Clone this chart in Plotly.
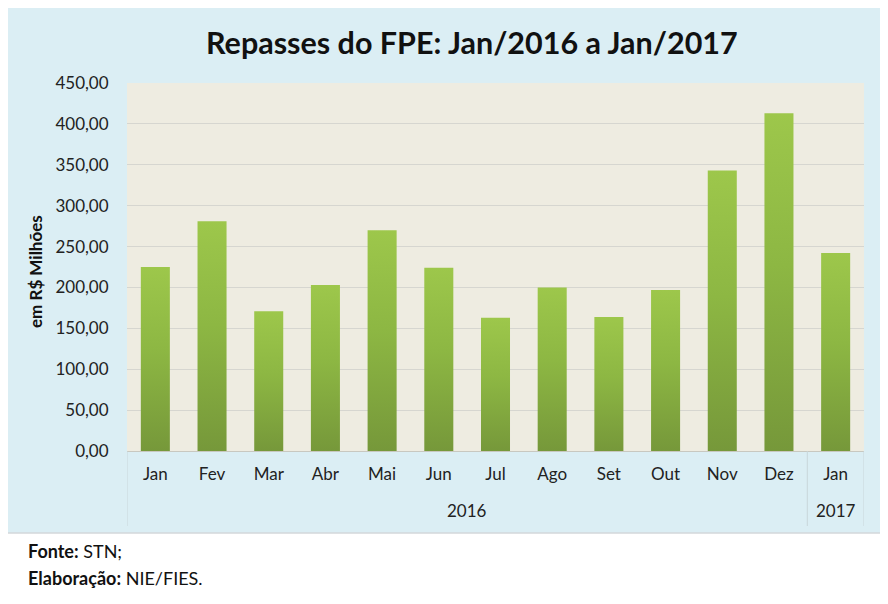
import plotly.graph_objects as go

months = ["Jan", "Fev", "Mar", "Abr", "Mai", "Jun", "Jul", "Ago", "Set", "Out", "Nov", "Dez", "Jan"]
years = ["2016", "2017"]
year_span = [12, 1]  # months in each year group
repasses = [225, 281, 171, 203, 270, 224, 163, 200, 164, 197, 343, 413, 242]
y_ticks = [0, 50, 100, 150, 200, 250, 300, 350, 400, 450]

FONT = "Lato"
BAR_HALF = 0.256
OFF = 8  # page body margin the browser adds around the figure

fig = go.Figure()

# each bar is a filled polygon so it can carry a vertical gradient
for i, v in enumerate(repasses):
    fig.add_trace(go.Scatter(
        x=[i - BAR_HALF, i + BAR_HALF, i + BAR_HALF, i - BAR_HALF, i - BAR_HALF],
        y=[0, 0, v, v, 0],
        mode="lines",
        line={"width": 0, "color": "rgba(0,0,0,0)"},
        fill="toself",
        fillgradient={"type": "vertical",
                      "colorscale": [[0, "#76983A"], [0.55, "#8DB743"], [1, "#9DC74B"]]},
        hoverinfo="skip",
        showlegend=False,
    ))

# plot geometry in screen pixels, used to place the frame and notes
W, H = 888 - OFF, 604 - OFF
L, R, T, B = 127, 864, 83, 451
pw, ph = R - L, B - T


def px(x):
    return (x - L) / pw


def py(y):
    return (B - y) / ph


shapes = [
    # light blue chart frame
    dict(type="rect", xref="paper", yref="paper", layer="below",
         x0=px(3), x1=px(885), y0=py(533), y1=py(3),
         fillcolor="#DBEEF4", line={"color": "#D3D8DA", "width": 1.5}),
    # beige plot area
    dict(type="rect", xref="paper", yref="paper", layer="below",
         x0=0, x1=1, y0=0, y1=1, fillcolor="#EEECE1", line={"width": 0}),
]

# group dividers below the axis
edges = [-0.5]
for n in year_span:
    edges.append(edges[-1] + n)
for e in edges:
    shapes.append(dict(type="line", xref="x", yref="paper",
                       x0=e, x1=e, y0=0, y1=py(526),
                       line={"color": "#C9D6DA", "width": 1}))

note = {"size": 18, "color": "#111111", "family": FONT}
annotations = [
    dict(text="<b>Repasses do FPE: Jan/2016 a Jan/2017</b>", xref="paper", yref="paper",
         x=px(472), y=py(42), xanchor="center", yanchor="middle", showarrow=False,
         font={"size": 30.5, "color": "#111111", "family": FONT}),
    dict(text="<b>em R$ Milhões</b>", xref="paper", yref="paper", textangle=-90,
         x=px(35), y=py(272), xanchor="center", yanchor="middle", showarrow=False,
         font={"size": 17, "color": "#111111", "family": FONT}),
    dict(text="<b>Fonte:</b> STN;", xref="paper", yref="paper", xanchor="left", yanchor="middle",
         x=px(26), y=py(551), showarrow=False, font=note),
    dict(text="<b>Elaboração:</b> NIE/FIES.", xref="paper", yref="paper", xanchor="left",
         yanchor="middle", x=px(26), y=py(578), showarrow=False, font=note),
]
start = 0
for yr, n in zip(years, year_span):
    annotations.append(dict(text=yr, xref="x", yref="paper",
                            x=start + (n - 1) / 2, y=py(510), yanchor="middle", showarrow=False,
                            font={"size": 17, "color": "#222222", "family": FONT}))
    start += n

fig.update_layout(
    width=W, height=H,
    margin={"l": L - OFF, "r": W - (R - OFF), "t": T - OFF, "b": H - (B - OFF)},
    paper_bgcolor="white",
    plot_bgcolor="rgba(0,0,0,0)",
    separators=",.",
    shapes=shapes,
    annotations=annotations,
    font={"family": FONT, "color": "#222222"},
    xaxis={
        "range": [-0.5, len(months) - 0.5],
        "tickvals": list(range(len(months))),
        "ticktext": months,
        "showgrid": False,
        "zeroline": False,
        "ticks": "outside", "ticklen": 8, "tickcolor": "rgba(0,0,0,0)",
        "tickfont": {"size": 17, "family": FONT, "color": "#222222"},
        "fixedrange": True,
    },
    yaxis={
        "range": [0, 450],
        "tickvals": y_ticks,
        "tickformat": ".2f",
        "showgrid": True, "gridcolor": "#D6D6D0", "gridwidth": 1,
        "zeroline": True, "zerolinecolor": "#C8C8C0", "zerolinewidth": 1,
        "ticks": "outside", "ticklen": 14, "tickcolor": "rgba(0,0,0,0)",
        "tickfont": {"size": 17, "family": FONT, "color": "#222222"},
        "fixedrange": True,
    },
)

fig.write_html("out.html")
